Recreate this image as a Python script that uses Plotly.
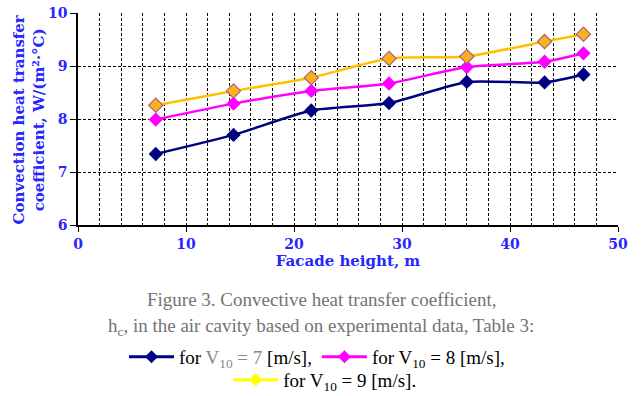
import plotly.graph_objects as go

heights = [7.2, 14.4, 21.6, 28.8, 36.0, 43.2, 46.8]
h_v7 = [7.34, 7.70, 8.16, 8.30, 8.70, 8.69, 8.84]
h_v8 = [7.99, 8.29, 8.53, 8.67, 8.98, 9.08, 9.24]
h_v9 = [8.26, 8.53, 8.78, 9.14, 9.18, 9.46, 9.60]

x_ticks = [0, 10, 20, 30, 40, 50]
y_ticks = [6, 7, 8, 9, 10]

BLUE = "#2626FF"
NAVY = "#000080"
MAGENTA = "#FF00FF"
GOLD = "#FFC000"
SERIF = "Liberation Serif"
WIDE_SERIF = "DejaVu Serif"

fig = go.Figure()

series = [
    (h_v7, dict(color=NAVY, width=2.5), dict(symbol="diamond", size=11, color=NAVY)),
    (h_v8, dict(color=MAGENTA, width=2.5), dict(symbol="diamond", size=11, color=MAGENTA)),
    (h_v9, dict(color=GOLD, width=2.5), dict(symbol="diamond", size=11, color="#F7B21E",
                                              line=dict(color="#B0607A", width=1.2))),
]
for vals, ln, mk in series:
    fig.add_trace(go.Scatter(x=heights, y=vals, mode="lines+markers",
                             line=dict(shape="spline", smoothing=0.6, **ln),
                             marker=mk, showlegend=False, cliponaxis=False))

# legend entries
leg_font = dict(family=SERIF, size=19, color="black")
fig.add_trace(go.Scatter(x=[None], y=[None], mode="lines+markers",
                         line=dict(color=NAVY, width=3),
                         marker=dict(symbol="diamond", size=10, color=NAVY),
                         name="for <span style='color:#888888'>V<sub>10</sub> = 7</span> [m/s],",
                         legend="legend"))
fig.add_trace(go.Scatter(x=[None], y=[None], mode="lines+markers",
                         line=dict(color=MAGENTA, width=3),
                         marker=dict(symbol="diamond", size=10, color=MAGENTA),
                         name="for V<sub>10</sub> = 8 [m/s],", legend="legend"))
fig.add_trace(go.Scatter(x=[None], y=[None], mode="lines+markers",
                         line=dict(color="#FFFF00", width=3),
                         marker=dict(symbol="diamond", size=10, color="#FFFF00"),
                         name="for V<sub>10</sub> = 9 [m/s].", legend="legend2"))

grid_kw = dict(gridcolor="black", gridwidth=1, griddash="3px,2px")

fig.update_xaxes(range=[0, 50], tickvals=x_ticks, ticktext=[f"<b>{v}</b>" for v in x_ticks],
                 showline=True, linecolor="black", linewidth=1.5,
                 ticks="outside", ticklen=5, tickcolor="black",
                 tickfont=dict(family=WIDE_SERIF, size=14, color=BLUE),
                 showgrid=True, **grid_kw,
                 minor=dict(dtick=2, tick0=0, showgrid=True, gridcolor="black",
                            gridwidth=1, griddash="3px,2px"),
                 zeroline=False,
                 title=dict(text="<b>Facade height, m</b>", standoff=3,
                            font=dict(family=WIDE_SERIF, size=15, color=BLUE)))
fig.update_yaxes(range=[6, 10], tickvals=y_ticks, ticktext=[f"<b>{v}</b>" for v in y_ticks],
                 showline=True, linecolor="black", linewidth=1.5,
                 ticks="outside", ticklen=6, tickcolor="black",
                 tickfont=dict(family=WIDE_SERIF, size=14, color=BLUE),
                 showgrid=True, **grid_kw, zeroline=False)

fig.update_layout(
    width=643, height=396,
    margin=dict(l=78, r=25, t=13, b=171, autoexpand=False),
    plot_bgcolor="white", paper_bgcolor="white",
    font=dict(family=SERIF),
    legend=dict(orientation="h", xref="container", yref="container",
                x=0.493, xanchor="center", y=1 - 357 / 396, yanchor="middle",
                font=leg_font, itemwidth=45, bgcolor="rgba(0,0,0,0)"),
    legend2=dict(orientation="h", xref="container", yref="container",
                 x=0.505, xanchor="center", y=1 - 380 / 396, yanchor="middle",
                 font=leg_font, itemwidth=45, bgcolor="rgba(0,0,0,0)"),
    annotations=[
        dict(text="<b>Convection heat transfer<br>coefficient, W/(m²·°C)</b>",
             xref="paper", yref="paper", x=-0.09, y=0.5, textangle=-90,
             showarrow=False, font=dict(family=WIDE_SERIF, size=15, color=BLUE),
             xanchor="center", yanchor="middle"),
        dict(text="Figure 3. Convective heat transfer coefficient,",
             xref="paper", yref="paper", x=0.45, y=(225 - 299) / 212,
             showarrow=False, font=dict(family=SERIF, size=19, color="#737373"),
             xanchor="center", yanchor="middle"),
        dict(text="h<sub>c</sub>, in the air cavity based on experimental data, Table 3:",
             xref="paper", yref="paper", x=0.45, y=(225 - 327) / 212,
             showarrow=False, font=dict(family=SERIF, size=19, color="#737373"),
             xanchor="center", yanchor="middle"),
    ],
)

fig.write_html("out.html", config={"displayModeBar": False},
               post_script="document.body.style.margin='0';document.body.style.overflow='hidden';")
